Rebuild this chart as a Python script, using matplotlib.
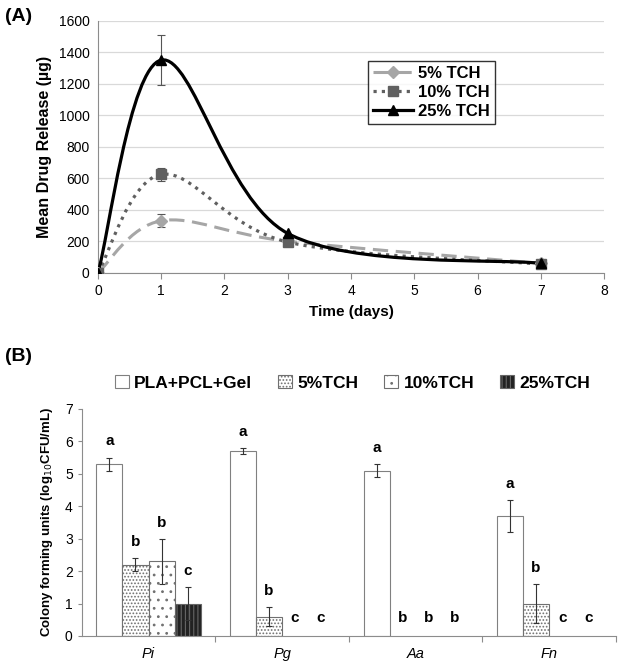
import numpy as np
import matplotlib
matplotlib.use("Agg")
import matplotlib.pyplot as plt
from matplotlib.path import Path
from matplotlib.patches import PathPatch, Patch
from matplotlib.lines import Line2D

plt.rcParams['font.family'] = ['Liberation Sans', 'DejaVu Sans']
plt.rcParams['hatch.linewidth'] = 0.8

# ---- panel A data ----
days = [0, 1, 3, 7]
rel_5 = [0, 330, 200, 60]
rel_10 = [0, 625, 195, 55]
rel_25 = [0, 1350, 250, 60]
err_5 = [0, 40, 0, 0]
err_10 = [0, 42, 0, 0]
err_25 = [0, 158, 0, 0]

# ---- panel B data ----
bacteria = ['Pi', 'Pg', 'Aa', 'Fn']
groups = ['PLA+PCL+Gel', '5%TCH', '10%TCH', '25%TCH']
cfu = [[5.3, 5.7, 5.1, 3.7],
       [2.2, 0.6, 0.0, 1.0],
       [2.3, 0.0, 0.0, 0.0],
       [1.0, 0.0, 0.0, 0.0]]
cfu_err = [[0.2, 0.1, 0.2, 0.5],
           [0.2, 0.3, 0.0, 0.6],
           [0.7, 0.0, 0.0, 0.0],
           [0.5, 0.0, 0.0, 0.0]]
letters = [['a', 'a', 'a', 'a'],
           ['b', 'b', 'b', 'b'],
           ['b', 'c', 'b', 'c'],
           ['c', 'c', 'b', 'c']]


def smooth_path(x, y):
    # Excel-style smoothed line: cubic bezier through the points
    pts = np.column_stack([x, y]).astype(float)
    n = len(pts)
    verts = [pts[0]]
    codes = [Path.MOVETO]
    for i in range(n - 1):
        p0 = pts[i - 1] if i > 0 else pts[i]
        p1 = pts[i]
        p2 = pts[i + 1]
        p3 = pts[i + 2] if i + 2 < n else pts[i + 1]
        verts += [p1 + (p2 - p0) / 6, p2 - (p3 - p1) / 6, p2]
        codes += [Path.CURVE4] * 3
    return Path(verts, codes)


def nonzero_err(xs, ys, es):
    keep = [i for i, e in enumerate(es) if e > 0]
    return [xs[i] for i in keep], [ys[i] for i in keep], [es[i] for i in keep]


fig = plt.figure(figsize=(6.24, 6.67), dpi=100)

# ================= panel A =================
ax = fig.add_axes([0.157, 0.591, 0.811, 0.378])
series = [
    ('5% TCH', rel_5, err_5, '#a6a6a6', (0, (5, 2.5)), 2.2, 'D', 6),
    ('10% TCH', rel_10, err_10, '#606060', (0, (1, 1.6)), 2.3, 's', 7),
    ('25% TCH', rel_25, err_25, 'black', '-', 2.3, '^', 7),
]
handles = []
for name, vals, err, col, ls, lw, mk, ms in series:
    ax.add_patch(PathPatch(smooth_path(days, vals), fill=False, edgecolor=col,
                           linestyle=ls, linewidth=lw, zorder=3))
    ex, ey, ee = nonzero_err(days, vals, err)
    ax.errorbar(ex, ey, yerr=ee, fmt='none', ecolor='#555555', elinewidth=0.8,
                capsize=3, capthick=0.8, zorder=2)
    ax.plot(days, vals, linestyle='none', marker=mk, markersize=ms, color=col, zorder=4)
    handles.append(Line2D([], [], color=col, linestyle=ls, linewidth=lw, marker=mk,
                          markersize=ms, label=name))

ax.set_xlim(0, 8)
ax.set_ylim(0, 1600)
ax.set_xticks(range(0, 9))
ax.set_yticks(range(0, 1601, 200))
ax.yaxis.grid(True, color='#d9d9d9', linewidth=0.9)
ax.set_axisbelow(True)
for s in ['top', 'right']:
    ax.spines[s].set_visible(False)
for s in ['left', 'bottom']:
    ax.spines[s].set_color('#8c8c8c')
ax.tick_params(axis='y', length=0, labelsize=10, pad=6)
ax.tick_params(axis='x', length=4, color='#8c8c8c', labelsize=10, pad=4)
ax.set_xlabel('Time (days)', fontsize=11, fontweight='bold', labelpad=5)
ax.set_ylabel('Mean Drug Release (µg)', fontsize=11.5, fontweight='bold', labelpad=5)
leg = ax.legend(handles=handles, loc='upper left', bbox_to_anchor=(0.534, 0.842),
                borderaxespad=0, fancybox=False, edgecolor='black', handlelength=2.4,
                handletextpad=0.3, borderpad=0.3, labelspacing=0.25,
                prop={'size': 12, 'weight': 'bold'})
leg.get_frame().set_linewidth(1.0)
fig.text(0.008, 0.975, '(A)', fontsize=14, fontweight='bold', va='center')

# ================= panel B =================
bx = fig.add_axes([0.131, 0.0465, 0.856, 0.3405])
x = np.arange(len(bacteria))
w = 0.195
styles = [
    dict(facecolor='white', edgecolor='#808080', hatch=None),
    dict(facecolor='white', edgecolor='#707070', hatch='.....'),
    dict(facecolor='white', edgecolor='#707070', hatch='..'),
    dict(facecolor='#222222', edgecolor='#666666', hatch='||||'),
]
for k in range(4):
    pos = x + (k - 1.5) * w
    edge_w = [0.8 if v > 0 else 0 for v in cfu[k]]
    bx.bar(pos, cfu[k], width=w, linewidth=edge_w, zorder=2, **styles[k])
    ex, ey, ee = nonzero_err(list(pos), cfu[k], cfu_err[k])
    if ee:
        bx.errorbar(ex, ey, yerr=ee, fmt='none', ecolor='#333333',
                    elinewidth=0.8, capsize=2.5, capthick=0.8, zorder=3)
    for j in range(len(bacteria)):
        top = cfu[k][j] + cfu_err[k][j]
        bx.text(pos[j], top + 0.28 if top > 0 else 0.35, letters[k][j],
                ha='center', va='bottom', fontsize=11, fontweight='bold')

bx.set_xlim(-0.5, 3.5)
bx.set_ylim(0, 7)
bx.set_yticks(range(0, 8))
bx.set_xticks([0.5, 1.5, 2.5, 3.5])
bx.set_xticklabels([])
bx.set_xticks(x, minor=True)
bx.set_xticklabels(bacteria, minor=True, fontstyle='italic', fontsize=10.5)
bx.tick_params(axis='x', which='major', length=4, color='#8c8c8c')
bx.tick_params(axis='x', which='minor', length=0, pad=8)
bx.tick_params(axis='y', length=3, color='#8c8c8c', labelsize=10)
for s in ['top', 'right']:
    bx.spines[s].set_visible(False)
for s in ['left', 'bottom']:
    bx.spines[s].set_color('#8c8c8c')
bx.set_ylabel('Colony forming units (log$_{10}$CFU/mL)', fontsize=9.5,
              fontweight='bold', labelpad=7)

leg_handles = [Patch(linewidth=0.8, label=g, **styles[k]) for k, g in enumerate(groups)]
fig.legend(handles=leg_handles, loc='center', bbox_to_anchor=(0.565, 0.426), ncol=4,
           frameon=False, handlelength=0.8, handleheight=0.8, handletextpad=0.3,
           columnspacing=1.5, prop={'size': 12.5, 'weight': 'bold'})
fig.text(0.008, 0.465, '(B)', fontsize=14, fontweight='bold', va='center')

fig.savefig('out.png', dpi=100)
